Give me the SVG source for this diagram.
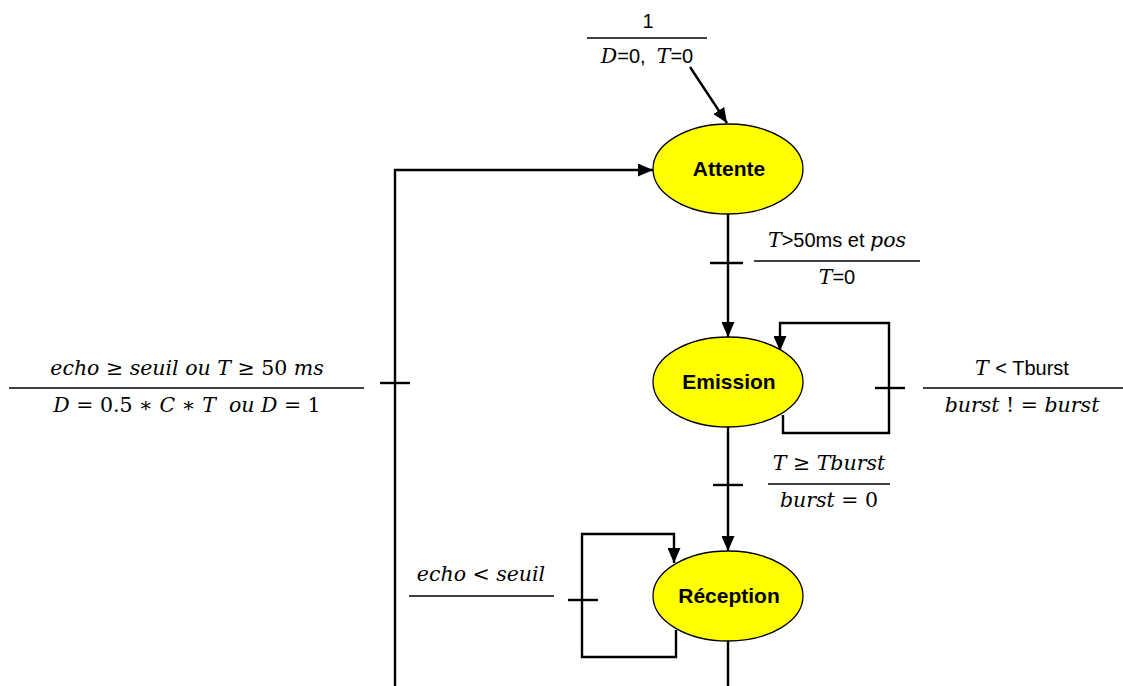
<svg xmlns="http://www.w3.org/2000/svg" width="1123" height="686" viewBox="0 0 1123 686">
<style>
.node{fill:#ffff00;stroke:#000;stroke-width:1.3}
.nl{font-family:"Liberation Sans",Arial,sans-serif;font-weight:bold;font-size:21px;text-anchor:middle}
.ln{fill:none;stroke:#000;stroke-width:2.4}
.bar{stroke:#000;stroke-width:1.3}
.m{font-family:"DejaVu Serif","Liberation Serif",serif;font-size:20.5px;font-style:italic;text-anchor:middle}
.u{font-family:"Liberation Sans",Arial,sans-serif;font-style:normal;font-size:20px}
.n{font-style:normal}
</style>
<defs>
<marker id="ah" markerWidth="15" markerHeight="13" refX="15" refY="6.5" orient="auto" markerUnits="userSpaceOnUse">
<path d="M0,0 L15,6.5 L0,13 Z" fill="#000"/>
</marker>
</defs>
<rect width="1123" height="686" fill="#fff"/>
<g id="connectors">
<line class="ln" x1="690" y1="67" x2="727" y2="123" marker-end="url(#ah)"/>
<line class="ln" x1="728" y1="214" x2="728" y2="337" marker-end="url(#ah)"/>
<line class="ln" x1="710" y1="263" x2="743" y2="263"/>
<polyline class="ln" points="783,415 783,433 889,433 889,323 780,323 780,351" marker-end="url(#ah)"/>
<line class="ln" x1="875" y1="388" x2="905" y2="388"/>
<line class="ln" x1="728" y1="427" x2="728" y2="551" marker-end="url(#ah)"/>
<line class="ln" x1="713" y1="485" x2="743" y2="485"/>
<polyline class="ln" points="676,630 676,657 582,657 582,534 674,534 674,563" marker-end="url(#ah)"/>
<line class="ln" x1="568" y1="600" x2="598" y2="600"/>
<polyline class="ln" points="728,641 728,690"/>
<polyline class="ln" points="395,690 395,170 653,170" marker-end="url(#ah)"/>
<line class="ln" x1="380" y1="383" x2="410" y2="383"/>
</g>
<g id="label-init">
<text class="m" x="648" y="28"><tspan class="u">1</tspan></text>
<line class="bar" x1="587" y1="38" x2="707" y2="38"/>
<text class="m" x="647" y="63">D<tspan class="u">=0,&#160; </tspan>T<tspan class="u">=0</tspan></text>
</g>
<g id="node-attente">
<ellipse class="node" cx="728" cy="169" rx="75" ry="45"/>
<text class="nl" x="729" y="176">Attente</text>
</g>
<g id="label-t1">
<text class="m" x="837" y="247">T<tspan class="u">&gt;50ms et </tspan>pos</text>
<line class="bar" x1="754" y1="261" x2="920" y2="261"/>
<text class="m" x="837" y="284">T<tspan class="u">=0</tspan></text>
</g>
<g id="node-emission">
<ellipse class="node" cx="728" cy="382" rx="75" ry="45"/>
<text class="nl" x="729" y="389">Emission</text>
</g>
<g id="label-t2">
<text class="m" x="1022" y="375">T <tspan class="u">&lt; Tburst</tspan></text>
<line class="bar" x1="923" y1="388" x2="1123" y2="388"/>
<text class="m" x="1022" y="412">burst <tspan class="n">! =</tspan> burst</text>
</g>
<g id="label-t3">
<text class="m" x="829" y="470">T <tspan class="n">≥</tspan> Tburst</text>
<line class="bar" x1="768" y1="484" x2="890" y2="484"/>
<text class="m" x="829" y="507">burst <tspan class="n">= 0</tspan></text>
</g>
<g id="node-reception">
<ellipse class="node" cx="728" cy="596" rx="75" ry="45"/>
<text class="nl" x="729" y="603">Réception</text>
</g>
<g id="label-t4">
<text class="m" x="481" y="581">echo <tspan class="n">&lt;</tspan> seuil</text>
<line class="bar" x1="409" y1="596" x2="554" y2="596"/>
</g>
<g id="label-t5">
<text class="m" x="187" y="375">echo <tspan class="n">≥</tspan> seuil ou T <tspan class="n">≥ 50</tspan> ms</text>
<line class="bar" x1="9" y1="388" x2="364" y2="388"/>
<text class="m" x="187" y="412">D <tspan class="n">= 0.5 ∗</tspan> C <tspan class="n">∗</tspan> T&#160; ou D <tspan class="n">= 1</tspan></text>
</g>
</svg>
